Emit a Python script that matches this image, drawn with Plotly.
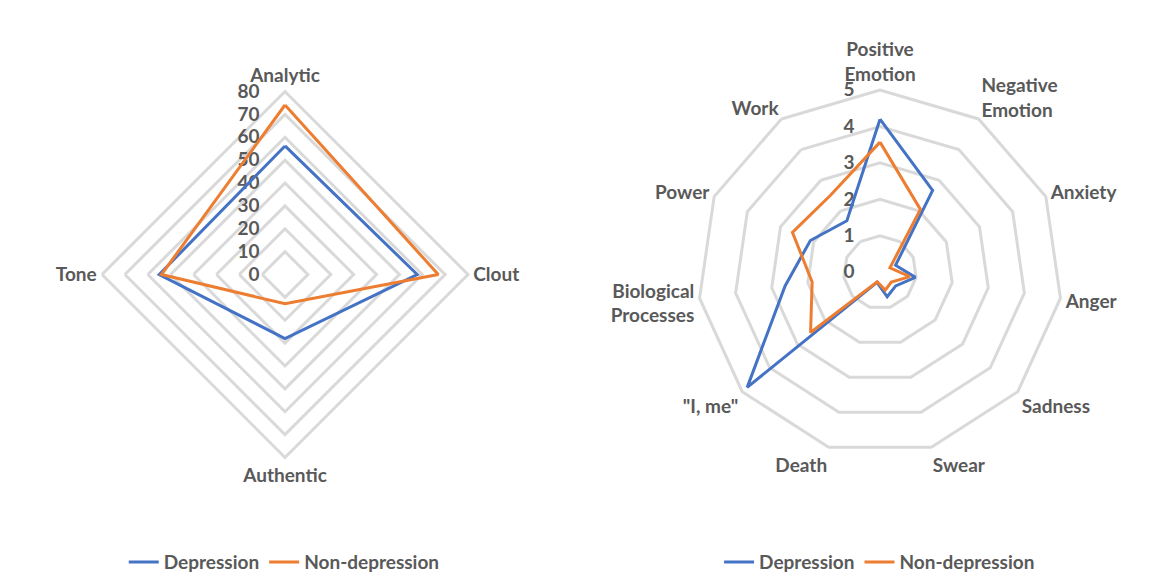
import plotly.graph_objects as go

# ---- data ----
left_categories = ["Analytic", "Clout", "Authentic", "Tone"]
left_depression = [56.2, 57.8, 28.0, 55.0]
left_nondepression = [74.1, 67.0, 12.8, 54.0]
left_ticks = [0, 10, 20, 30, 40, 50, 60, 70, 80]

right_categories = ["Positive<br>Emotion", "Negative<br>Emotion", "Anxiety", "Anger",
                    "Sadness", "Swear", "Death", "\"I, me\"", "Biological<br>Processes",
                    "Power", "Work"]
right_depression = [4.20, 2.67, 0.47, 0.98, 0.57, 0.70, 0.29, 4.82, 2.63, 2.10, 1.68]
right_nondepression = [3.57, 2.05, 0.30, 0.83, 0.41, 0.51, 0.27, 2.52, 1.88, 2.64, 2.51]
right_ticks = [0, 1, 2, 3, 4, 5]

series_names = ["Depression", "Non-depression"]
series_colors = ["#4472C4", "#ED7D31"]

TEXT = "#595959"
GRID = "#D9D9D9"
FONT = "Lato"
PAD = "\u2007\u2007"  # figure spaces: keep radial labels a little left of the axis


def closed(vals):
    return list(vals) + [vals[0]]


fig = go.Figure()

for name, vals, col in zip(series_names, [left_depression, left_nondepression], series_colors):
    fig.add_trace(go.Scatterpolar(
        r=closed(vals), theta=closed(left_categories), mode="lines", name=name,
        line=dict(color=col, width=3), subplot="polar", legend="legend",
    ))

for name, vals, col in zip(series_names, [right_depression, right_nondepression], series_colors):
    fig.add_trace(go.Scatterpolar(
        r=closed(vals), theta=closed(right_categories), mode="lines", name=name,
        line=dict(color=col, width=3), subplot="polar2", legend="legend2",
    ))

W, H = 1165, 588


def dom(cx, cy, rad):
    return dict(x=[(cx - rad) / W, (cx + rad) / W], y=[1 - (cy + rad) / H, 1 - (cy - rad) / H])


tickfont = dict(family=FONT, size=19, color=TEXT, weight="bold")


def polar_cfg(cx, cy, rad, ticks):
    return dict(
        domain=dom(cx, cy, rad),
        gridshape="linear",
        bgcolor="white",
        radialaxis=dict(range=[ticks[0], ticks[-1]], tickmode="array", tickvals=ticks,
                        ticktext=[str(t) + PAD for t in ticks], angle=90, tickangle=90,
                        side="counterclockwise", showline=False, ticks="",
                        gridcolor=GRID, gridwidth=3, tickfont=tickfont,
                        layer="below traces"),
        angularaxis=dict(type="category", direction="clockwise", rotation=90,
                         showgrid=False, showline=True, linecolor=GRID, linewidth=3,
                         ticks="", tickfont=tickfont, layer="below traces"),
    )


legfont = dict(family=FONT, size=19, color=TEXT, weight="bold")

fig.update_layout(
    width=W, height=H,
    margin=dict(l=0, r=0, t=0, b=0, autoexpand=False),
    paper_bgcolor="white",
    polar=polar_cfg(285, 274.5, 183, left_ticks),
    polar2=polar_cfg(880, 272.3, 182.3, right_ticks),
    legend=dict(orientation="h", x=0.244, xanchor="center", y=0.044, yanchor="middle",
                font=legfont, bgcolor="rgba(0,0,0,0)"),
    legend2=dict(orientation="h", x=0.755, xanchor="center", y=0.044, yanchor="middle",
                 font=legfont, bgcolor="rgba(0,0,0,0)"),
)

fig.write_html("out.html", config={"displayModeBar": False},
               post_script="document.body.style.margin='0px';")
